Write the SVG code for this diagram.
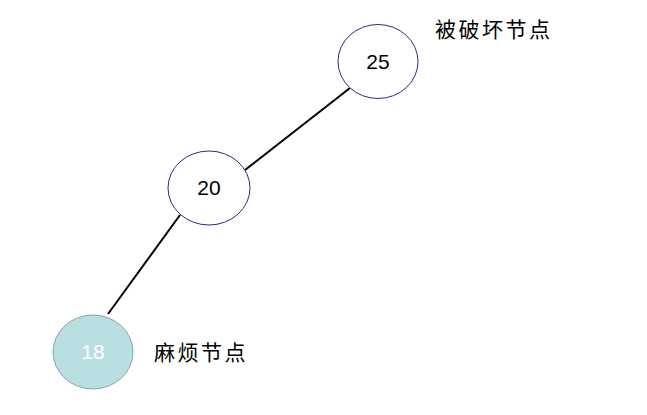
<svg xmlns="http://www.w3.org/2000/svg" width="647" height="415" viewBox="0 0 647 415">
<style>
.n{fill:#fff;stroke:#2e2a86;stroke-width:1}
.num{font-family:"Liberation Sans",Arial,sans-serif;font-size:21px;text-anchor:middle}
.lbl{font-family:"Liberation Serif","Noto Sans CJK SC",serif;font-size:21px;letter-spacing:2.5px}
.e{stroke:#000;stroke-width:2;fill:none}
</style>
<rect width="647" height="415" fill="#fff"/>
<g id="edges">
<line class="e" x1="350" y1="88" x2="245" y2="170"/>
<line class="e" x1="180" y1="215" x2="108" y2="314"/>
</g>
<g id="n25">
<ellipse class="n" cx="378" cy="61.5" rx="40" ry="37"/>
<text class="num" x="378" y="69">25</text>
</g>
<g id="n20">
<ellipse class="n" cx="209" cy="188" rx="41" ry="37"/>
<text class="num" x="209" y="195">20</text>
</g>
<g id="n18">
<ellipse cx="93" cy="352" rx="40" ry="37" fill="#b9dfe2" stroke="#8aa6a6"/>
<text class="num" x="93" y="359" fill="#fff">18</text>
</g>
<g id="label1"><text class="lbl" x="435" y="37">被破坏节点</text></g>
<g id="label2"><text class="lbl" x="154" y="360">麻烦节点</text></g>
</svg>
